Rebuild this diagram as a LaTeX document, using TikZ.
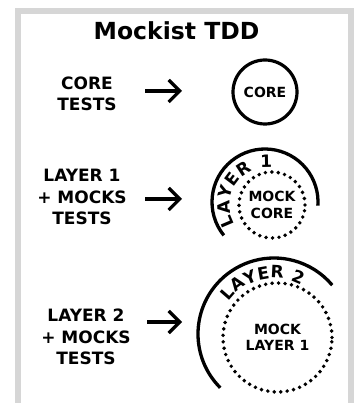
\documentclass[tikz,border=0pt]{standalone}
\usepackage{fontspec}
\setmainfont{DejaVu Sans}
\usetikzlibrary{arrows.meta,decorations.text}
\newcommand{\labfont}{\fontsize{17}{21.5}\selectfont\bfseries}
\newcommand{\inlabfont}{\fontsize{14}{16.5}\selectfont\bfseries}
\newcommand{\arclabfont}{\fontsize{17}{18}\selectfont\bfseries}
\begin{document}
\begin{tikzpicture}[x=1pt,y=1pt,
  lab/.style={align=center,font=\labfont,inner sep=0pt},
  solidcirc/.style={circle,draw,line width=3.2pt,inner sep=0pt,font=\inlabfont},
  dotcirc/.style={circle,draw,line width=3.9pt,dash pattern=on 0pt off 6.5pt,line cap=round,inner sep=0pt,align=center,font=\inlabfont},
  arr/.style={line width=3.2pt,-{Straight Barb[length=11pt,width=22pt]}},
  layerarc/.style={line width=3.3pt},
  arcletter/.style={font=\arclabfont,inner sep=0pt},
  frame/.style={line width=6pt,draw={rgb,255:red,214;green,214;blue,214},line join=miter}]
\useasboundingbox (0,0) rectangle (358,403);
\draw[frame] (18,0) -- (18,392) -- (350.5,392) -- (350.5,0);
\node[font=\fontsize{23.5}{25}\selectfont\bfseries,inner sep=0pt] (title) at (176.5,372.5) {Mockist TDD};
% row 1
\node[lab] (lab1) at (87,309) {CORE\\TESTS};
\coordinate (a1s) at (145,312);
\coordinate (a1e) at (182,312);
\draw[arr] (a1s) -- (a1e);
\node[solidcirc,minimum size=64pt] (core) at (265,311) {CORE};
% row 2
\node[lab] (lab2) at (82,206) {LAYER 1\\+ MOCKS\\TESTS};
\coordinate (a2s) at (145,204);
\coordinate (a2e) at (182,204);
\draw[arr] (a2s) -- (a2e);
\node[dotcirc,minimum size=66pt] (mockcore) at (272,198) {MOCK\\CORE};
\coordinate (c2) at (265,201);
\draw[layerarc] ([shift={(219:53)}]c2) arc[start angle=219,end angle=-4,radius=53];
\coordinate (t2) at (267,198);
\foreach \ch/\ang [count=\i] in {L/203,A/183,Y/163,E/143,R/123,1/91}
  \node[arcletter,rotate=\ang-90] (l1ch\i) at ([shift={(\ang:43.5)}]t2) {\ch};
% row 3
\node[lab] (lab3) at (86,66) {LAYER 2\\+ MOCKS\\TESTS};
\coordinate (a3s) at (147,81);
\coordinate (a3e) at (182,81);
\draw[arr] (a3s) -- (a3e);
\node[dotcirc,minimum size=109pt] (mocklayer) at (277.5,65.5) {MOCK\\LAYER 1};
\coordinate (c3) at (274,69);
\draw[layerarc] ([shift={(225:76)}]c3) arc[start angle=225,end angle=40,radius=76];
\foreach \ch/\ang [count=\i] in {L/139,A/126,Y/113,E/100,R/87,2/67}
  \node[arcletter,rotate=\ang-90] (l2ch\i) at ([shift={(\ang:62)}]c3) {\ch};
\end{tikzpicture}
\end{document}
